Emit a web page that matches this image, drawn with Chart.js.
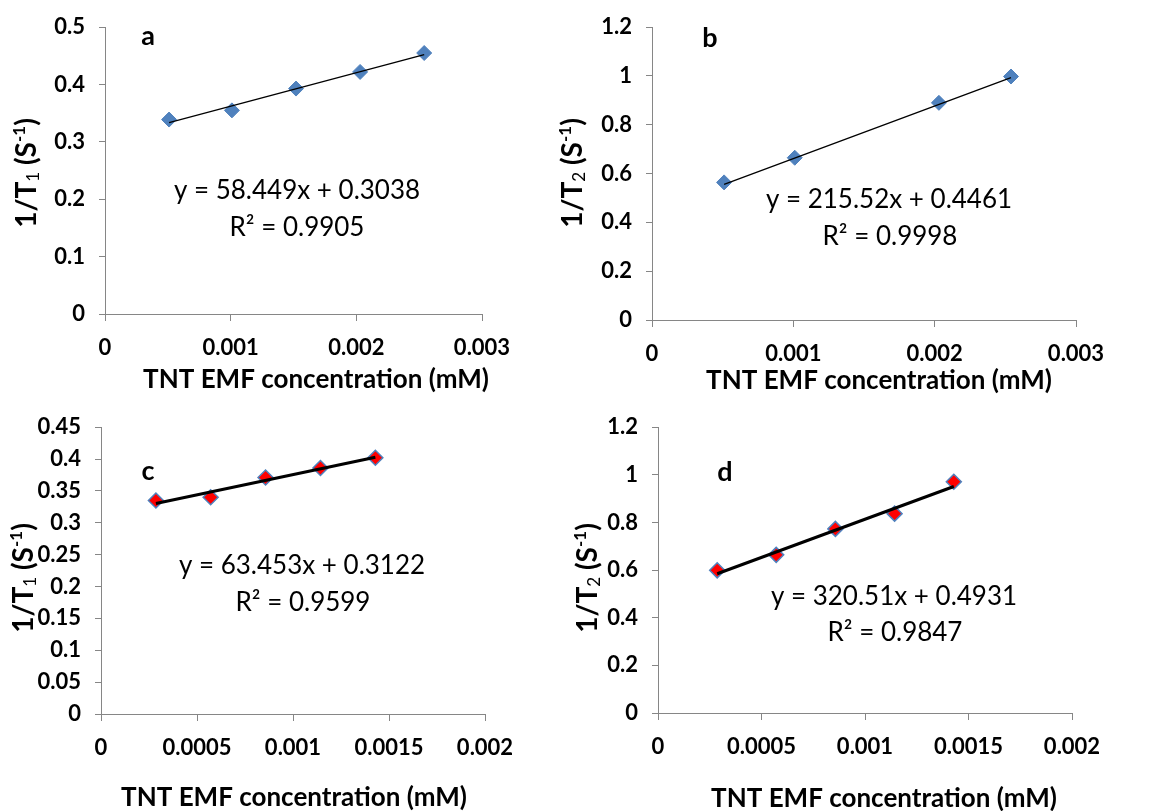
<!DOCTYPE html>
<html>
<head>
<meta charset="utf-8">
<script src="https://cdn.jsdelivr.net/npm/chart.js@4/dist/chart.umd.min.js"></script>
<style>
  body { margin: 0; background: #fff; width: 1162px; height: 811px; position: relative; overflow: hidden; }
  canvas { position: absolute; }
</style>
</head>
<body>
<canvas id="chartA" width="545" height="400" style="left:0;top:0"></canvas>
<canvas id="chartB" width="617" height="400" style="left:545px;top:0"></canvas>
<canvas id="chartC" width="545" height="411" style="left:0;top:400px"></canvas>
<canvas id="chartD" width="617" height="411" style="left:545px;top:400px"></canvas>
<script>
// Valores
const xA = [0.00051, 0.00101, 0.00152, 0.00203, 0.00254];
const yA = [0.339, 0.355, 0.393, 0.422, 0.455];
const xB = [0.00051, 0.00101, 0.00203, 0.00254];
const yB = [0.564, 0.665, 0.890, 0.998];
const xC = [0.000286, 0.000571, 0.000857, 0.001143, 0.001429];
const yC = [0.335, 0.340, 0.371, 0.386, 0.402];
const xD = [0.000286, 0.000571, 0.000857, 0.001143, 0.001429];
const yD = [0.599, 0.664, 0.773, 0.837, 0.971];

// Retas de ajuste (equações mostradas no gráfico)
const fitSlope = [58.449, 215.52, 63.453, 320.51];
const fitIntercept = [0.3038, 0.4461, 0.3122, 0.4931];
const fitR2 = ['0.9905', '0.9998', '0.9599', '0.9847'];

// Marcas dos eixos
const xTicksTop = [0, 0.001, 0.002, 0.003];
const xTicksBottom = [0, 0.0005, 0.001, 0.0015, 0.002];
const yTicksA = [0, 0.1, 0.2, 0.3, 0.4, 0.5];
const yTicksB = [0, 0.2, 0.4, 0.6, 0.8, 1, 1.2];
const yTicksC = [0, 0.05, 0.1, 0.15, 0.2, 0.25, 0.3, 0.35, 0.4, 0.45];
const yTicksD = [0, 0.2, 0.4, 0.6, 0.8, 1, 1.2];

const xTitle = 'TNT EMF concentration (mM)';
const FONT = 'Lato, "Liberation Sans", sans-serif';
const AXIS_COLOR = '#868686';

// Desenha texto com partes de fontes diferentes (sub/sobrescrito)
function drawRich(ctx, parts, cx, y) {
  let total = 0;
  parts.forEach(p => { ctx.font = p.font; p.w = ctx.measureText(p.t).width; total += p.w; });
  let x = cx - total / 2;
  ctx.textAlign = 'left';
  parts.forEach(p => {
    ctx.font = p.font;
    ctx.fillText(p.t, x, y + (p.dy || 0));
    x += p.w;
  });
}

const panelText = {
  id: 'panelText',
  afterDraw(chart, args, opts) {
    const ctx = chart.ctx;
    ctx.save();
    ctx.fillStyle = '#000';
    ctx.textBaseline = 'middle';
    ctx.textAlign = 'center';

    // letra do painel
    ctx.font = 'bold 27px ' + FONT;
    ctx.fillText(opts.letter, opts.letterPos[0], opts.letterPos[1]);

    // equação da reta
    ctx.font = '26px ' + FONT;
    ctx.fillText(opts.eq, opts.eqPos[0], opts.eqPos[1]);
    ctx.fillText('R\u00B2 = ' + opts.r2, opts.r2Pos[0], opts.r2Pos[1]);

    // título do eixo x
    ctx.font = 'bold 26px ' + FONT;
    ctx.fillText(xTitle, opts.xTitlePos[0], opts.xTitlePos[1]);

    // título do eixo y (girado)
    ctx.save();
    ctx.translate(opts.yTitlePos[0], opts.yTitlePos[1]);
    ctx.rotate(-Math.PI / 2);
    ctx.textBaseline = 'alphabetic';
    drawRich(ctx, [
      { t: '1/T', font: 'bold 28px ' + FONT },
      { t: opts.sub, font: '17px ' + FONT, dy: 3 },
      { t: ' (S', font: 'bold 28px ' + FONT },
      { t: '-1', font: 'bold 17px ' + FONT, dy: -11 },
      { t: ')', font: 'bold 28px ' + FONT }
    ], 0, 10);
    ctx.restore();

    ctx.restore();
  }
};

function makePanel(id, cfg) {
  const canvas = document.getElementById(id);
  const xs = cfg.x, ys = cfg.y;
  const points = xs.map((v, i) => ({ x: v, y: ys[i] }));
  const m = fitSlope[cfg.idx], b = fitIntercept[cfg.idx];
  const trend = [xs[0], xs[xs.length - 1]].map(v => ({ x: v, y: m * v + b }));
  const tickFont = { family: FONT, size: 22, weight: 'bold' };

  return new Chart(canvas, {
    type: 'scatter',
    data: {
      datasets: [
        {
          label: 'Linear',
          data: trend,
          showLine: true,
          borderColor: '#000',
          borderWidth: cfg.lineWidth,
          pointRadius: 0,
          fill: false
        },
        {
          label: 'dados',
          data: points,
          pointStyle: 'rectRot',
          pointRadius: 7.5,
          backgroundColor: cfg.fill,
          borderColor: '#4F81BD',
          borderWidth: cfg.markerBorder
        }
      ]
    },
    options: {
      responsive: false,
      animation: false,
      layout: {
        padding: { top: cfg.area.top, right: canvas.width - cfg.area.right, left: 0, bottom: 0 }
      },
      scales: {
        x: {
          type: 'linear',
          min: cfg.xTicks[0],
          max: cfg.xTicks[cfg.xTicks.length - 1],
          afterBuildTicks: s => { s.ticks = cfg.xTicks.map(v => ({ value: v })); },
          afterFit: s => { s.height = canvas.height - cfg.area.bottom; },
          grid: { drawOnChartArea: false, drawTicks: true, tickLength: 7, color: AXIS_COLOR },
          border: { color: AXIS_COLOR, width: 1 },
          ticks: {
            font: tickFont, color: '#000', padding: 14,
            maxRotation: 0, autoSkip: false,
            callback: v => String(v)
          }
        },
        y: {
          type: 'linear',
          min: cfg.yTicks[0],
          max: cfg.yTicks[cfg.yTicks.length - 1],
          afterBuildTicks: s => { s.ticks = cfg.yTicks.map(v => ({ value: v })); },
          afterFit: s => { s.width = cfg.area.left; },
          grid: { drawOnChartArea: false, drawTicks: true, tickLength: 6, color: AXIS_COLOR },
          border: { color: AXIS_COLOR, width: 1 },
          ticks: {
            font: tickFont, color: '#000', padding: 14,
            autoSkip: false,
            callback: v => String(v)
          }
        }
      },
      plugins: {
        legend: { display: false },
        tooltip: { enabled: false },
        panelText: {
          letter: cfg.letter,
          letterPos: cfg.letterPos,
          eq: 'y = ' + m + 'x + ' + b,
          eqPos: cfg.eqPos,
          r2: fitR2[cfg.idx],
          r2Pos: cfg.r2Pos,
          xTitlePos: cfg.xTitlePos,
          yTitlePos: cfg.yTitlePos,
          sub: cfg.sub
        }
      }
    },
    plugins: [panelText]
  });
}

makePanel('chartA', {
  idx: 0, x: xA, y: yA, xTicks: xTicksTop, yTicks: yTicksA,
  area: { left: 105, top: 20, right: 482, bottom: 314 },
  fill: '#4F81BD', markerBorder: 1, lineWidth: 1.3,
  letter: 'a', letterPos: [148, 36],
  eqPos: [297, 191], r2Pos: [297, 228],
  xTitlePos: [316, 380], yTitlePos: [26, 173], sub: '1'
});

makePanel('chartB', {
  idx: 1, x: xB, y: yB, xTicks: xTicksTop, yTicks: yTicksB,
  area: { left: 107, top: 25, right: 531, bottom: 320 },
  fill: '#4F81BD', markerBorder: 1, lineWidth: 1.3,
  letter: 'b', letterPos: [165, 38],
  eqPos: [344, 200], r2Pos: [345, 237],
  xTitlePos: [334, 381], yTitlePos: [27, 173], sub: '2'
});

makePanel('chartC', {
  idx: 2, x: xC, y: yC, xTicks: xTicksBottom, yTicks: yTicksC,
  area: { left: 101, top: 20, right: 485, bottom: 314 },
  fill: '#FF0000', markerBorder: 1.5, lineWidth: 3,
  letter: 'c', letterPos: [148, 71],
  eqPos: [302, 166], r2Pos: [303, 203],
  xTitlePos: [294, 398], yTitlePos: [23, 178], sub: '1'
});

makePanel('chartD', {
  idx: 3, x: xD, y: yD, xTicks: xTicksBottom, yTicks: yTicksD,
  area: { left: 113, top: 19, right: 527, bottom: 313 },
  fill: '#FF0000', markerBorder: 1.5, lineWidth: 3,
  letter: 'd', letterPos: [180, 72],
  eqPos: [349, 197], r2Pos: [350, 233],
  xTitlePos: [339, 399], yTitlePos: [42, 178], sub: '2'
});
</script>
</body>
</html>
